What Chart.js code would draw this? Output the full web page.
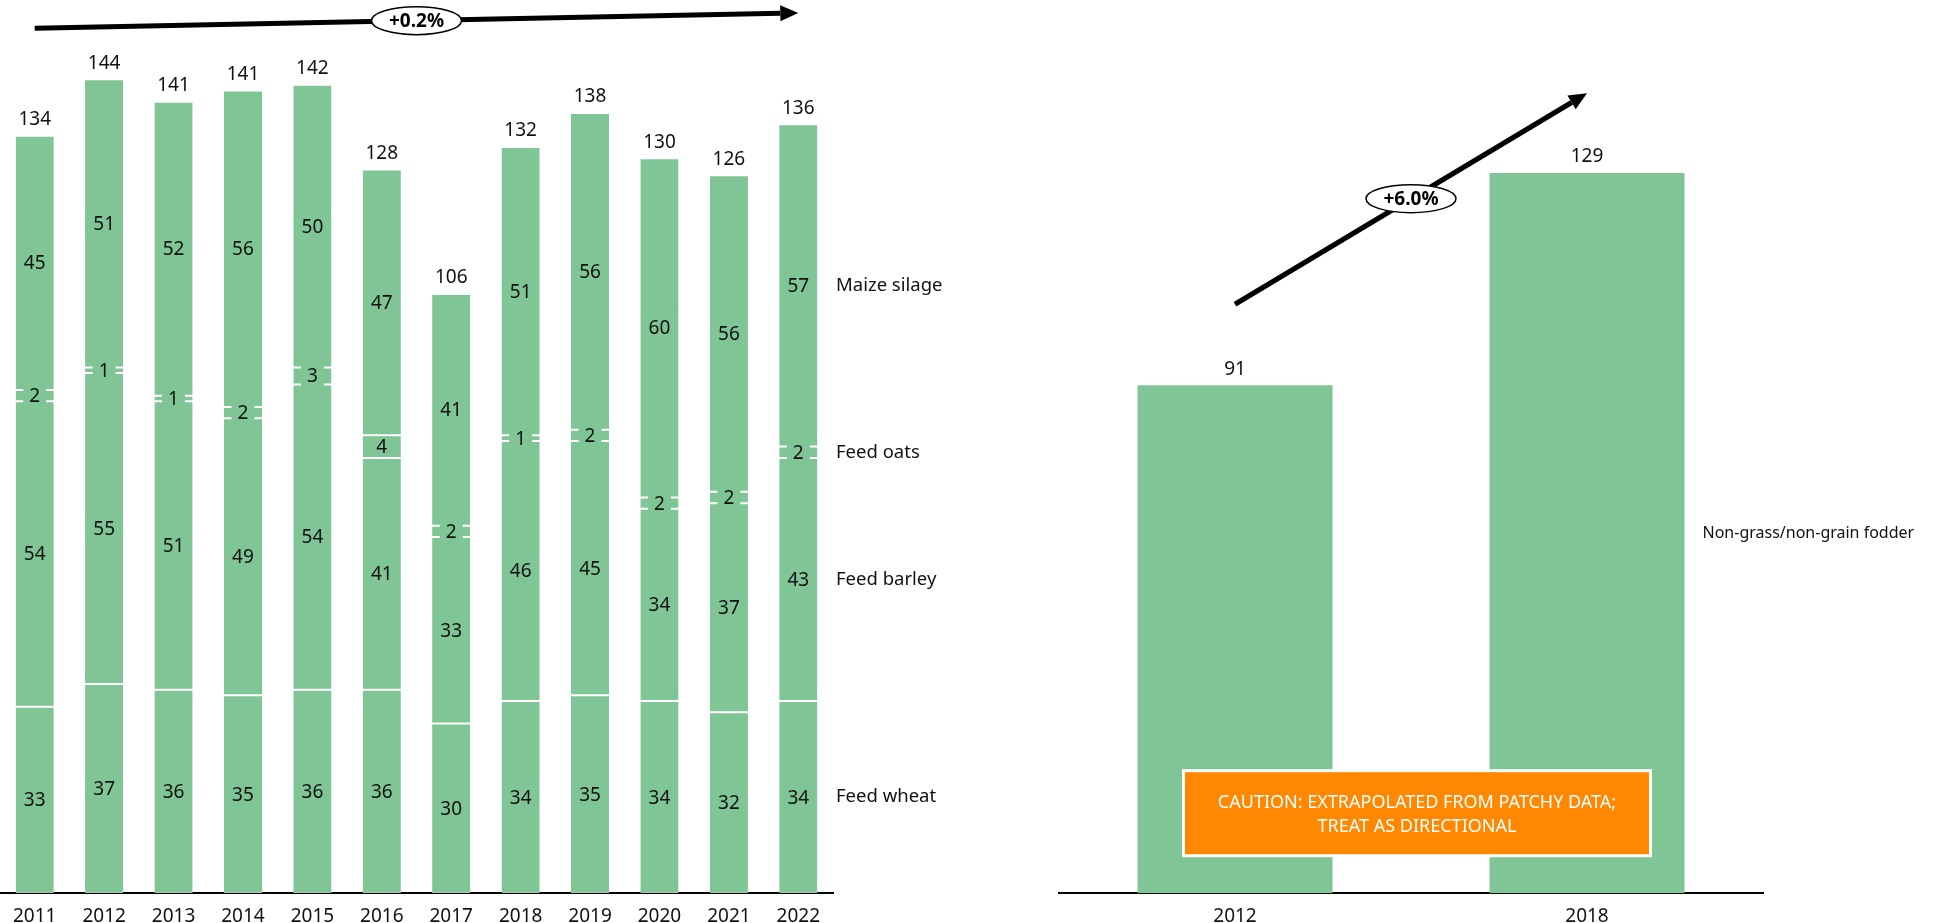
<!DOCTYPE html>
<html>
<head>
<meta charset="utf-8">
<script src="https://cdn.jsdelivr.net/npm/chart.js@4.4.0/dist/chart.umd.min.js"></script>
<style>
  html, body { margin: 0; padding: 0; background: #fff; }
  body { width: 1958px; height: 923px; position: relative; overflow: hidden; }
  #esquerda { position: absolute; left: 0; top: 0; width: 1000px; height: 932px; }
  #direita { position: absolute; left: 1000px; top: 0; width: 958px; height: 932px; }
</style>
</head>
<body>
<div id="esquerda"><canvas id="grafico1"></canvas></div>
<div id="direita"><canvas id="grafico2"></canvas></div>
<script>
// Dados do gráfico da esquerda (empilhado, de baixo para cima)
const anos = ['2011', '2012', '2013', '2014', '2015', '2016', '2017', '2018', '2019', '2020', '2021', '2022'];
const feedWheat = [33, 37, 36, 35, 36, 36, 30, 34, 35, 34, 32, 34];
const feedBarley = [54, 55, 51, 49, 54, 41, 33, 46, 45, 34, 37, 43];
const feedOats = [2, 1, 1, 2, 3, 4, 2, 1, 2, 2, 2, 2];
const maizeSilage = [45, 51, 52, 56, 50, 47, 41, 51, 56, 60, 56, 57];
const totais = [134, 144, 141, 141, 142, 128, 106, 132, 138, 130, 126, 136];
const nomesSeries = ['Feed wheat', 'Feed barley', 'Feed oats', 'Maize silage'];

// Dados do gráfico da direita
const anosDireita = ['2012', '2018'];
const fodder = [91, 129];
const nomeFodder = 'Non-grass/non-grain fodder';

// Textos das anotações
const cagrEsquerda = '+0.2%';
const cagrDireita = '+6.0%';
const aviso = ['CAUTION: EXTRAPOLATED FROM PATCHY DATA;', 'TREAT AS DIRECTIONAL'];

// Extremos das setas (em unidades do eixo y)
const setaEsquerda = [153, 155.7];
const setaDireita = [105.5, 143.3];

const verde = '#80C595';
const fonte = '"Noto Sans", sans-serif';

// Função para desenhar a seta com o rótulo em elipse
function desenharSeta(ctx, x1, y1, x2, y2, texto) {
    const ang = Math.atan2(y2 - y1, x2 - x1);
    const cab = 18;
    const xb = x2 - cab * Math.cos(ang), yb = y2 - cab * Math.sin(ang);
    ctx.save();
    ctx.strokeStyle = '#000';
    ctx.fillStyle = '#000';
    ctx.lineWidth = 5;
    ctx.beginPath();
    ctx.moveTo(x1, y1);
    ctx.lineTo(xb, yb);
    ctx.stroke();
    ctx.beginPath();
    ctx.moveTo(x2, y2);
    ctx.lineTo(xb + 8 * Math.sin(ang), yb - 8 * Math.cos(ang));
    ctx.lineTo(xb - 8 * Math.sin(ang), yb + 8 * Math.cos(ang));
    ctx.closePath();
    ctx.fill();
    const mx = (x1 + x2) / 2, my = (y1 + y2) / 2;
    ctx.beginPath();
    ctx.ellipse(mx, my, 45, 14, 0, 0, Math.PI * 2);
    ctx.fillStyle = '#fff';
    ctx.fill();
    ctx.lineWidth = 1.5;
    ctx.stroke();
    ctx.fillStyle = '#000';
    ctx.font = 'bold 19px ' + fonte;
    ctx.textAlign = 'center';
    ctx.textBaseline = 'middle';
    ctx.fillText(texto, mx, my + 1);
    ctx.restore();
}

// Plugin para os rótulos do gráfico da esquerda
const rotulosEsquerda = {
    id: 'rotulosEsquerda',
    afterDatasetsDraw(chart) {
        const ctx = chart.ctx;
        ctx.save();
        ctx.font = '19px ' + fonte;
        ctx.textAlign = 'center';
        ctx.textBaseline = 'middle';
        chart.data.datasets.forEach((ds, i) => {
            const meta = chart.getDatasetMeta(i);
            meta.data.forEach((barra, j) => {
                const yc = (barra.y + barra.base) / 2;
                const txt = String(ds.data[j]);
                const w = ctx.measureText(txt).width + 12;
                ctx.fillStyle = verde;
                ctx.fillRect(barra.x - w / 2, yc - 10, w, 20);
                ctx.fillStyle = '#111';
                ctx.fillText(txt, barra.x, yc + 1);
            });
        });
        // totais acima das barras
        const topo = chart.getDatasetMeta(chart.data.datasets.length - 1);
        topo.data.forEach((barra, j) => {
            ctx.fillStyle = '#111';
            ctx.fillText(String(totais[j]), barra.x, barra.y - 16);
        });
        // nomes das séries ao lado da última barra
        ctx.textAlign = 'left';
        ctx.font = '18.5px ' + fonte;
        const ultimo = anos.length - 1;
        chart.data.datasets.forEach((ds, i) => {
            const barra = chart.getDatasetMeta(i).data[ultimo];
            ctx.fillText(ds.label, chart.chartArea.right + 3, (barra.y + barra.base) / 2);
        });
        ctx.restore();
    },
    afterDraw(chart) {
        const x = chart.scales.x, y = chart.scales.y;
        desenharSeta(chart.ctx,
            x.getPixelForValue(0), y.getPixelForValue(setaEsquerda[0]),
            x.getPixelForValue(anos.length - 1), y.getPixelForValue(setaEsquerda[1]),
            cagrEsquerda);
    }
};

// Plugin para os rótulos do gráfico da direita
const rotulosDireita = {
    id: 'rotulosDireita',
    afterDatasetsDraw(chart) {
        const ctx = chart.ctx;
        const meta = chart.getDatasetMeta(0);
        ctx.save();
        ctx.fillStyle = '#111';
        ctx.font = '19px ' + fonte;
        ctx.textAlign = 'center';
        ctx.textBaseline = 'middle';
        meta.data.forEach((barra, j) => {
            ctx.fillText(String(fodder[j]), barra.x, barra.y - 16);
        });
        const ult = meta.data[meta.data.length - 1];
        ctx.textAlign = 'left';
        ctx.font = '16px ' + fonte;
        ctx.fillText(nomeFodder, ult.x + ult.width / 2 + 18, (ult.y + ult.base) / 2);
        ctx.restore();
    },
    afterDraw(chart) {
        const ctx = chart.ctx;
        const x = chart.scales.x, y = chart.scales.y;
        desenharSeta(ctx,
            x.getPixelForValue(0), y.getPixelForValue(setaDireita[0]),
            x.getPixelForValue(1), y.getPixelForValue(setaDireita[1]),
            cagrDireita);
        // caixa de aviso
        const area = chart.chartArea;
        const cx = (area.left + area.right) / 2 + 6;
        const w = 464, h = 82;
        const by = area.bottom - 39 - h;
        ctx.save();
        ctx.fillStyle = '#fff';
        ctx.fillRect(cx - w / 2 - 3, by - 3, w + 6, h + 6);
        ctx.fillStyle = '#FF8800';
        ctx.fillRect(cx - w / 2, by, w, h);
        ctx.fillStyle = '#fff';
        ctx.font = '18px ' + fonte;
        ctx.textAlign = 'center';
        ctx.textBaseline = 'middle';
        ctx.fillText(aviso[0], cx, by + 31);
        ctx.fillText(aviso[1], cx, by + 55);
        ctx.restore();
    }
};

const eixoX = {
    grid: { display: false },
    border: { display: true, color: '#000', width: 2 },
    ticks: { color: '#111', font: { family: fonte, size: 19 }, padding: 4 }
};

// Gráfico da esquerda
const series = [feedWheat, feedBarley, feedOats, maizeSilage];
new Chart(document.getElementById('grafico1'), {
    type: 'bar',
    data: {
        labels: anos,
        datasets: series.map((valores, i) => ({
            label: nomesSeries[i],
            data: valores,
            backgroundColor: verde,
            borderColor: '#fff',
            borderWidth: { top: 1, bottom: 1, left: 0, right: 0 },
            borderSkipped: false,
            barPercentage: 0.55,
            categoryPercentage: 1
        }))
    },
    options: {
        responsive: true,
        maintainAspectRatio: false,
        animation: false,
        layout: { padding: { left: 0, right: 167, top: 0, bottom: 0 } },
        plugins: { legend: { display: false }, tooltip: { enabled: false } },
        scales: {
            x: Object.assign({ stacked: true }, eixoX),
            y: { stacked: true, display: false, min: 0, max: 158 }
        }
    },
    plugins: [rotulosEsquerda]
});

// Gráfico da direita
new Chart(document.getElementById('grafico2'), {
    type: 'bar',
    data: {
        labels: anosDireita,
        datasets: [{
            label: nomeFodder,
            data: fodder,
            backgroundColor: verde,
            borderWidth: 0,
            barPercentage: 0.554,
            categoryPercentage: 1
        }]
    },
    options: {
        responsive: true,
        maintainAspectRatio: false,
        animation: false,
        layout: { padding: { left: 59, right: 195, top: 0, bottom: 0 } },
        plugins: { legend: { display: false }, tooltip: { enabled: false } },
        scales: {
            x: eixoX,
            y: { display: false, min: 0, max: 160 }
        }
    },
    plugins: [rotulosDireita]
});
</script>
</body>
</html>
